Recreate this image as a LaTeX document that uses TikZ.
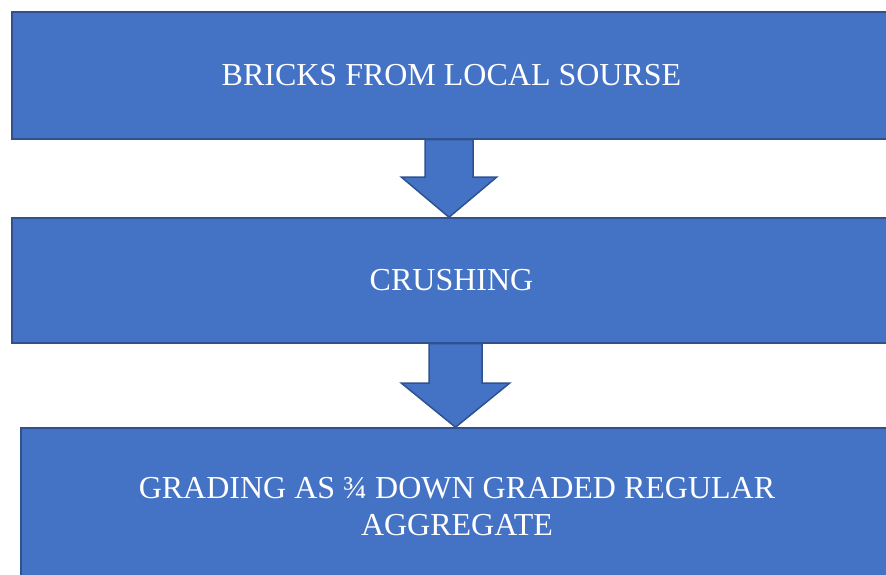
\documentclass[tikz,border=0pt]{standalone}
\usepackage{fontspec}
\setmainfont{Liberation Serif}
\usetikzlibrary{calc}
\definecolor{boxblue}{HTML}{4472C4}
\definecolor{edgeblue}{HTML}{2F528F}
% block arrow: from, to, shaft half width, head half width, head length
\newcommand{\blockarrow}[5]{%
    \path[draw=edgeblue, line width=1.5pt, fill=boxblue, line join=miter] let \p1=(#1), \p2=(#2) in
        ({\x1-#3pt},\y1) -- ({\x1-#3pt},{\y2+#5pt}) -- ({\x1-#4pt},{\y2+#5pt}) -- (\x1,\y2)
        -- ({\x1+#4pt},{\y2+#5pt}) -- ({\x1+#3pt},{\y2+#5pt}) -- ({\x1+#3pt},\y1) -- cycle;}

\begin{document}
\begin{tikzpicture}[x=1pt, y=1pt,
    stepbox/.style={draw=edgeblue, line width=1.5pt, fill=boxblue, text=white, align=center,
        font=\fontsize{32}{37}\selectfont, inner sep=0pt}]
    \useasboundingbox (0,0) rectangle (886,575);
    \clip (0,0) rectangle (886,575);

    \node[stepbox, minimum width=879pt, minimum height=127pt] (bricks) at (451.5, 499.5) {BRICKS FROM LOCAL SOURSE};
    \node[stepbox, minimum width=879pt, minimum height=125pt] (crush) at (451.5, 294.5) {CRUSHING};
    \node[stepbox, minimum width=872pt, minimum height=157pt] (grade) at (457, 68.5) {GRADING AS ¾ DOWN GRADED REGULAR\\AGGREGATE};

    \coordinate (ax1) at (449, 0);
    \coordinate (ax2) at (455.5, 0);

    \blockarrow{bricks.south -| ax1}{crush.north -| ax1}{24}{47.5}{40}
    \blockarrow{crush.south -| ax2}{grade.north -| ax2}{26.5}{54}{44}
\end{tikzpicture}
\end{document}
